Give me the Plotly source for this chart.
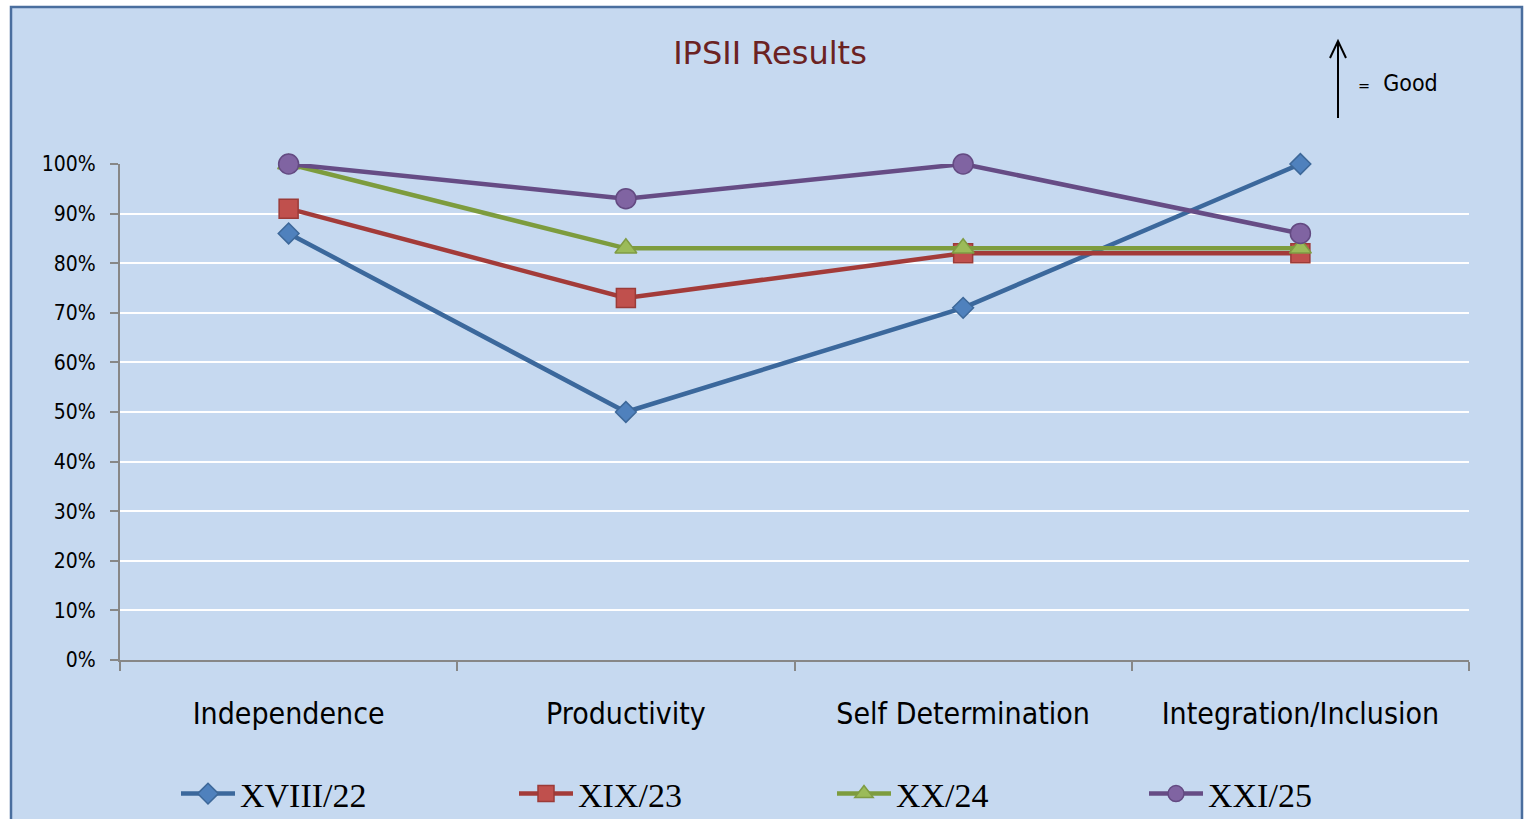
import plotly.graph_objects as go

categories = ["Independence", "Productivity", "Self Determination", "Integration/Inclusion"]
series_names = ["XVIII/22", "XIX/23", "XX/24", "XXI/25"]
xviii_22 = [0.86, 0.50, 0.71, 1.00]
xix_23 = [0.91, 0.73, 0.82, 0.82]
xx_24 = [1.00, 0.83, 0.83, 0.83]
xxi_25 = [1.00, 0.93, 1.00, 0.86]
y_ticks = [0, 0.1, 0.2, 0.3, 0.4, 0.5, 0.6, 0.7, 0.8, 0.9, 1.0]

W, H = 1524, 819
L, R, T, B = 120, 1469, 164, 660
NARROW = "Liberation Sans Narrow, DejaVu Sans Condensed, Arial Narrow, sans-serif"


def px(x):
    return (x - L) / (R - L)


def py(y):
    return (B - y) / (B - T)


styles = [
    dict(line="#3b689c", fill="#4f81bd", edge="#3d6899", symbol="diamond", size=16),
    dict(line="#a33b39", fill="#c0504d", edge="#9b3b38", symbol="square", size=19),
    dict(line="#7d9c3e", fill="#9bbb59", edge="#7f9c43", symbol="triangle-up", size=19),
    dict(line="#664c85", fill="#8064a2", edge="#634a82", symbol="circle", size=20),
]
values = [xviii_22, xix_23, xx_24, xxi_25]
legend_x = [176, 514, 832, 1144]

fig = go.Figure()
for i, (name, vals, st) in enumerate(zip(series_names, values, styles)):
    fig.add_trace(
        go.Scatter(
            x=categories,
            y=vals,
            mode="lines+markers",
            name=name,
            line=dict(color=st["line"], width=4.5),
            marker=dict(symbol=st["symbol"], size=st["size"], color=st["fill"],
                        line=dict(color=st["edge"], width=1.5)),
            cliponaxis=False,
            showlegend=True,
            legend="legend" if i == 0 else f"legend{i + 1}",
        )
    )

legend_font = dict(family="Liberation Serif, Times New Roman, serif", size=34, color="#000000")
legends = {}
for i, lx in enumerate(legend_x):
    key = "legend" if i == 0 else f"legend{i + 1}"
    legends[key] = dict(
        xref="container", yref="container",
        x=lx / W, y=1 - 794 / H, xanchor="left", yanchor="middle",
        orientation="h", font=legend_font, bgcolor="rgba(0,0,0,0)",
        itemwidth=54, tracegroupgap=0,
    )

shapes = [
    # chart frame
    dict(type="rect", xref="paper", yref="paper", layer="below",
         x0=px(11), x1=px(1522), y0=py(840), y1=py(7),
         fillcolor="#c6d9f0", line=dict(color="#4a6e9e", width=2.5)),
    # "good" arrow
    dict(type="line", xref="paper", yref="paper",
         x0=px(1338), x1=px(1338), y0=py(118), y1=py(42),
         line=dict(color="#000000", width=2)),
    dict(type="path", xref="paper", yref="paper",
         path=f"M {px(1330)},{py(58)} L {px(1338)},{py(41)} L {px(1346)},{py(58)}",
         line=dict(color="#000000", width=2)),
]

fig.update_layout(
    width=W, height=H,
    margin=dict(l=L, r=W - R, t=T, b=H - B, autoexpand=False),
    paper_bgcolor="#ffffff",
    plot_bgcolor="rgba(0,0,0,0)",
    showlegend=True,
    title=dict(text="IPSII Results", x=770 / W, xanchor="center", y=1 - 53 / H, yanchor="middle",
               font=dict(family="DejaVu Sans, sans-serif", size=32, color="#6b2222")),
    xaxis=dict(
        type="category", range=[-0.5, 3.5], tickson="boundaries", automargin=False,
        showgrid=False, zeroline=False, showline=True, linecolor="#878787", linewidth=2,
        ticks="outside", ticklen=9, tickcolor="#878787", tickwidth=2,
        tickfont=dict(family=NARROW, size=30, color="#000000"),
        ticklabelstandoff=26,
    ),
    yaxis=dict(
        range=[0, 1], tickvals=y_ticks, tickformat=".0%", automargin=False,
        showgrid=True, gridcolor="#ffffff", gridwidth=2,
        zeroline=False, showline=True, linecolor="#878787", linewidth=2,
        ticks="outside", ticklen=8, tickcolor="#878787", tickwidth=2,
        tickfont=dict(family=NARROW, size=21, color="#000000"),
        ticklabelstandoff=10,
    ),
    shapes=shapes,
    annotations=[
        dict(xref="paper", yref="paper", x=px(1356), y=py(83), xanchor="left", yanchor="middle",
             showarrow=False,
             text="<span style='font-size:16px'>=</span>  Good",
             font=dict(family=NARROW, size=23, color="#000000")),
    ],
    **legends,
)

fig.write_html("out.html", config={"displayModeBar": False},
               post_script="document.body.style.margin='0';")
